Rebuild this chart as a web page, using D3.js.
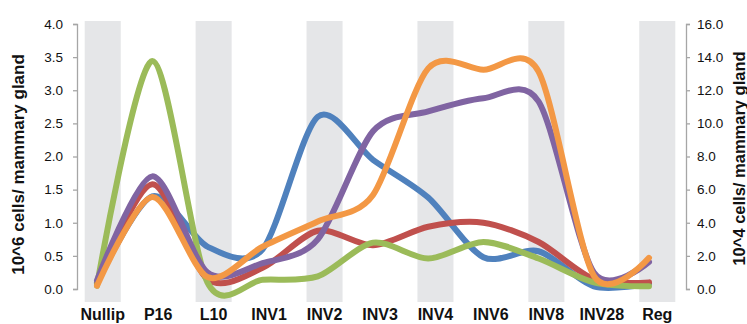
<!DOCTYPE html>
<html>
<head>
<meta charset="utf-8">
<script src="https://cdn.jsdelivr.net/npm/d3@7"></script>
<style>
  html, body { margin: 0; padding: 0; background: #fff; }
  svg { display: block; }
  text { font-family: "Liberation Sans", Arial, sans-serif; fill: #111; }
</style>
</head>
<body>
<svg id="chart" width="747" height="324"></svg>
<script>
// Mammary gland time course: cell counts per gland at each stage
const stages = ["Nullip", "P16", "L10", "INV1", "INV2", "INV3", "INV4", "INV6", "INV8", "INV28", "Reg"];
const shadedStages = ["Nullip", "L10", "INV2", "INV4", "INV8", "Reg"];

const blueSeries   = [0.10, 1.40, 0.64, 0.60, 2.60, 1.95, 1.38, 0.48, 0.57, 0.04, 0.08];
const redSeries    = [0.08, 1.58, 0.15, 0.32, 0.88, 0.66, 0.94, 1.00, 0.71, 0.15, 0.10];
const greenSeries  = [0.05, 3.44, 0.10, 0.14, 0.19, 0.70, 0.46, 0.71, 0.46, 0.10, 0.04];
const purpleSeries = [0.13, 1.70, 0.25, 0.39, 0.75, 2.38, 2.68, 2.88, 2.83, 0.25, 0.41];
const orangeSeries = [0.05, 1.39, 0.18, 0.64, 1.02, 1.42, 3.33, 3.31, 3.28, 0.20, 0.47];

const leftTicks  = [0, 0.5, 1.0, 1.5, 2.0, 2.5, 3.0, 3.5, 4.0];
const rightTicks = [0, 2, 4, 6, 8, 10, 12, 14, 16];

const seriesList = [
  { values: blueSeries,   color: "#4f81bd" },
  { values: redSeries,    color: "#c0504d" },
  { values: greenSeries,  color: "#9bbb59" },
  { values: purpleSeries, color: "#8064a2" },
  { values: orangeSeries, color: "#f39845" }
];

const svg = d3.select("#chart");

const xBand = d3.scaleBand().domain(stages).range([75, 685])
  .paddingInner(0.35).paddingOuter(0.175);
const xPoint = d3.scalePoint().domain(stages).range([97, 649]);
const yLeft  = d3.scaleLinear().domain([0, 4]).range([289, 24]);
const yRight = d3.scaleLinear().domain([0, 16]).range([289, 24]);

// alternating grey stage bands
svg.append("g").selectAll("rect")
  .data(shadedStages)
  .join("rect")
  .attr("x", d => xBand(d))
  .attr("width", xBand.bandwidth())
  .attr("y", 21)
  .attr("height", 281)
  .attr("fill", "#e5e6e8");

// axes
const axisColor = "#a6a6a6";
const gLeft = svg.append("g").attr("transform", "translate(77,0)")
  .call(d3.axisLeft(yLeft).tickValues(leftTicks).tickFormat(d3.format(".1f")).tickSizeOuter(0).tickSize(4).tickPadding(10));
const gRight = svg.append("g").attr("transform", "translate(686,0)")
  .call(d3.axisRight(yRight).tickValues(rightTicks).tickFormat(d3.format(".1f")).tickSizeOuter(0).tickSize(4).tickPadding(7));
[gLeft, gRight].forEach(g => {
  g.select(".domain").attr("stroke", axisColor).attr("stroke-width", 1.3);
  g.selectAll(".tick line").attr("stroke", axisColor).attr("stroke-width", 1.3);
  g.selectAll(".tick text")
    .attr("font-family", "'Liberation Sans', Arial, sans-serif")
    .attr("font-size", 13.5)
    .attr("fill", "#222");
});

// smoothed series lines
const line = d3.line()
  .x((d, i) => xPoint(stages[i]))
  .y(d => yLeft(d))
  .curve(d3.curveCardinal.tension(0.15));

svg.append("g").selectAll("path")
  .data(seriesList)
  .join("path")
  .attr("d", s => line(s.values))
  .attr("fill", "none")
  .attr("stroke", s => s.color)
  .attr("stroke-width", 6)
  .attr("stroke-linecap", "round")
  .attr("stroke-linejoin", "round");

// stage labels
svg.append("g").selectAll("text")
  .data(stages)
  .join("text")
  .attr("x", d => xBand(d) + xBand.bandwidth() / 2)
  .attr("y", 320)
  .attr("text-anchor", "middle")
  .attr("font-weight", "bold")
  .attr("font-size", 16)
  .text(d => d);

// axis titles
svg.append("text")
  .attr("transform", "translate(24,164.5) rotate(-90)")
  .attr("text-anchor", "middle")
  .attr("font-weight", "bold")
  .attr("font-size", 17)
  .text("10^6 cells/ mammary gland");

svg.append("text")
  .attr("transform", "translate(744.5,158.5) rotate(-90)")
  .attr("text-anchor", "middle")
  .attr("font-weight", "bold")
  .attr("font-size", 16.5)
  .text("10^4 cells/ mammary gland");
</script>
</body>
</html>
